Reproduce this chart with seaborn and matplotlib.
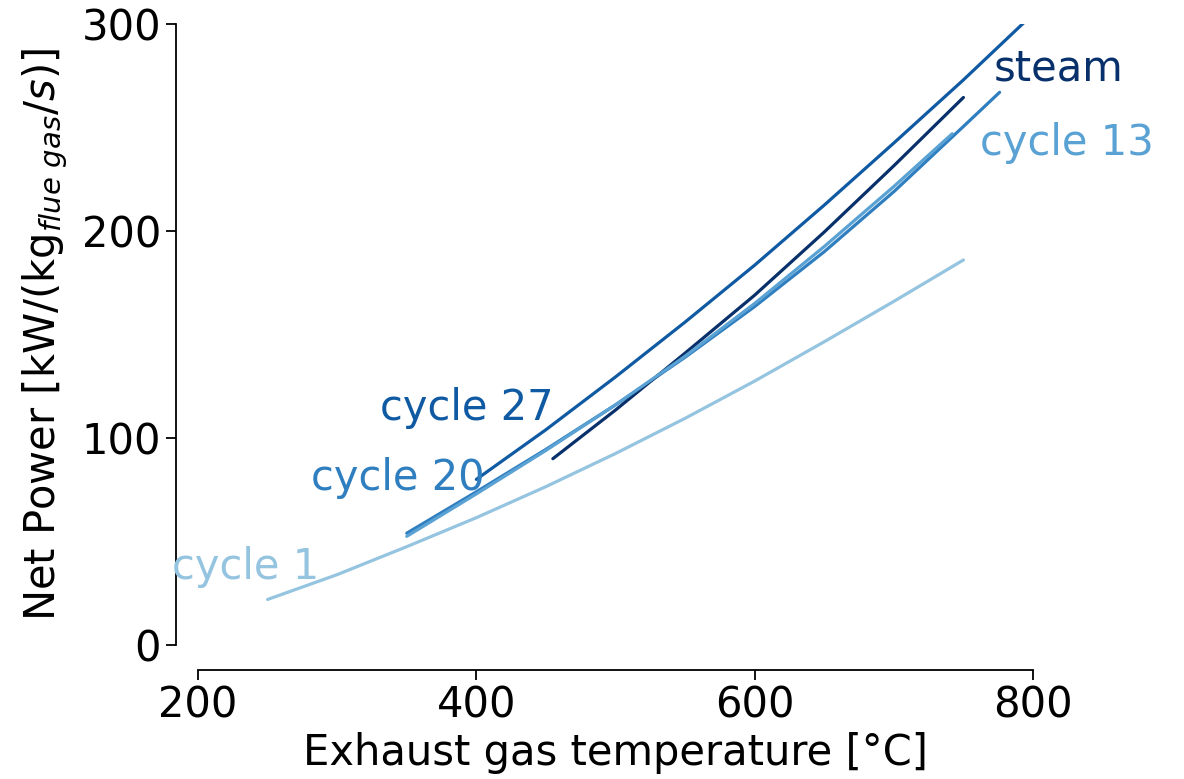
import matplotlib
matplotlib.use("Agg")
import matplotlib.pyplot as plt
import seaborn as sns
import pandas as pd

# ---- data ----
cycle1_T = [250, 300, 350, 400, 450, 500, 550, 600, 650, 700, 720, 750]
cycle1_P = [22, 34, 47.5, 61.5, 76.5, 92.5, 109.5, 127.5, 146.5, 166, 174, 186]

cycle13_T = [350, 400, 450, 500, 550, 600, 650, 700, 742]
cycle13_P = [52.5, 73, 94, 116, 139.5, 165, 192.5, 221.5, 247]

cycle20_T = [350, 400, 450, 500, 550, 600, 650, 700, 750, 776]
cycle20_P = [54, 74, 94.5, 116, 139, 163.5, 190, 219, 250.5, 267]

cycle27_T = [400, 450, 500, 550, 600, 650, 700, 750, 794]
cycle27_P = [80, 104, 129.5, 156, 183.5, 212.5, 242.5, 273, 301]

steam_T = [455, 500, 550, 600, 650, 700, 750]
steam_P = [90, 113.5, 141, 169, 199.5, 231.5, 264.5]

series_names = ["cycle 1", "cycle 20", "cycle 27", "steam", "cycle 13"]
x_ticks = [200, 400, 600, 800]
y_ticks = [0, 100, 200, 300]

# label anchor positions (data coords, left/baseline)
label_x = {"cycle 1": 181, "cycle 20": 281, "cycle 27": 331, "steam": 771.5, "cycle 13": 762}
label_y = {"cycle 1": 32, "cycle 20": 75, "cycle 27": 108.7, "steam": 272.5, "cycle 13": 236.7}

colors = {
    "cycle 1": "#94c4df",
    "cycle 13": "#5aa2d3",
    "cycle 20": "#2f7ebf",
    "cycle 27": "#0f5aa2",
    "steam": "#08306b",
}

data = {
    "cycle 1": (cycle1_T, cycle1_P),
    "cycle 13": (cycle13_T, cycle13_P),
    "cycle 20": (cycle20_T, cycle20_P),
    "cycle 27": (cycle27_T, cycle27_P),
    "steam": (steam_T, steam_P),
}

rows = []
for name in series_names:
    T, P = data[name]
    for t, p in zip(T, P):
        rows.append({"series": name, "T": t, "P": p})
df = pd.DataFrame(rows)

sns.set_style("ticks")
plt.rcParams["font.family"] = ["DejaVu Sans"]
plt.rcParams["mathtext.fontset"] = "dejavusans"
plt.rcParams["axes.labelcolor"] = "black"
plt.rcParams["text.color"] = "black"

fig = plt.figure(figsize=(11.84, 7.79), dpi=100)
ax = fig.add_axes([198 / 1184, 1 - 645 / 779, (1033 - 198) / 1184, (645 - 24) / 779])

sns.lineplot(data=df, x="T", y="P", hue="series", hue_order=series_names,
             palette=colors, sort=False, estimator=None, legend=False,
             linewidth=2.3, ax=ax)

for name in series_names:
    ax.text(label_x[name], label_y[name], name, color=colors[name],
            fontsize=30, ha="left", va="baseline")

ax.set_xlim(200, 800)
ax.set_ylim(0, 300)
ax.set_xticks(x_ticks)
ax.set_yticks(y_ticks)
ax.tick_params(labelsize=30, length=7, width=1.3, colors="black")
ax.set_xlabel("Exhaust gas temperature [°C]", fontsize=30, color="black")
ax.set_ylabel(r"Net Power [kW/(kg$_{flue\ gas}/s$)]", fontsize=30, color="black", labelpad=8)
for s in ax.spines.values():
    s.set_linewidth(1.3)
    s.set_color("black")
sns.despine(ax=ax, offset={"left": 16, "bottom": 18}, trim=True)

fig.savefig("out.png", dpi=100)
